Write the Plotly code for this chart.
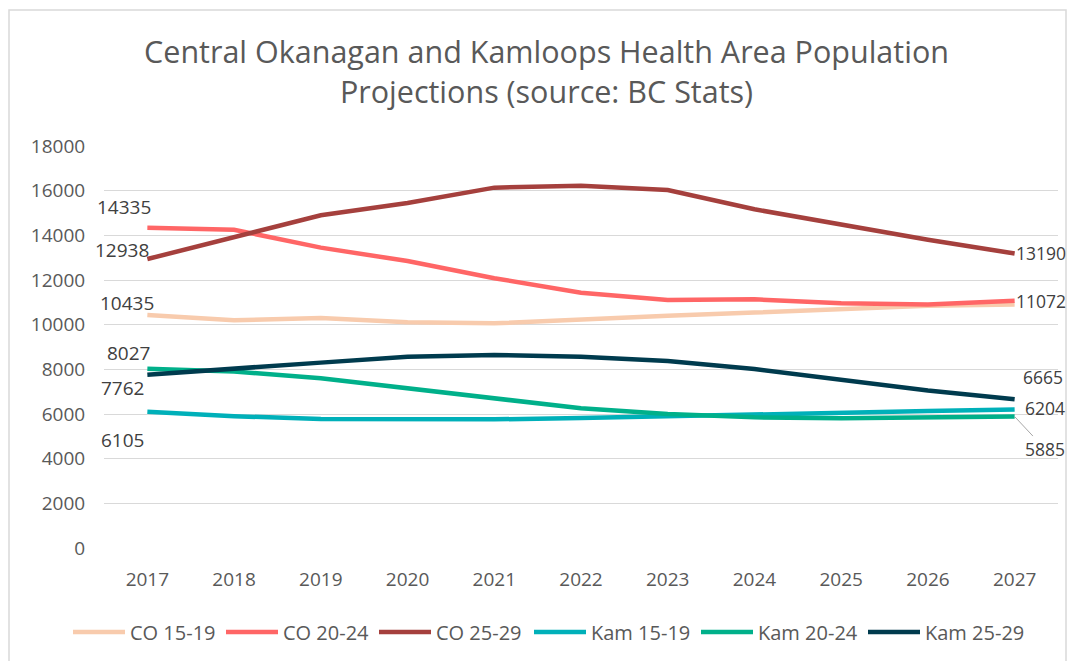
import plotly.graph_objects as go

years = ["2017", "2018", "2019", "2020", "2021", "2022", "2023", "2024", "2025", "2026", "2027"]

co_15_19 = [10435, 10200, 10300, 10110, 10060, 10240, 10400, 10540, 10700, 10850, 10900]
co_20_24 = [14335, 14250, 13450, 12850, 12080, 11430, 11105, 11135, 10955, 10900, 11072]
co_25_29 = [12938, 13900, 14900, 15450, 16135, 16225, 16030, 15165, 14465, 13800, 13190]
kam_15_19 = [6105, 5900, 5780, 5760, 5760, 5820, 5910, 6000, 6060, 6130, 6204]
kam_20_24 = [8027, 7900, 7600, 7150, 6700, 6255, 6000, 5850, 5810, 5830, 5885]
kam_25_29 = [7762, 8050, 8300, 8567, 8643, 8567, 8374, 8016, 7523, 7050, 6665]

series_names = ["CO 15-19", "CO 20-24", "CO 25-29", "Kam 15-19", "Kam 20-24", "Kam 25-29"]
series_values = [co_15_19, co_20_24, co_25_29, kam_15_19, kam_20_24, kam_25_29]

title_text = "Central Okanagan and Kamloops Health Area Population<br>Projections (source: BC Stats)"

# styling
colors = ["#F8CBAD", "#FF6666", "#A5403D", "#00B0B9", "#00B08A", "#003B4E"]
legend_groups = ["legend", "legend", "legend", "legend2", "legend2", "legend2"]
# label offsets (xshift, yshift) for first and last points
first_offsets = [(9, 12), (6, 21), (4, 9), (-1, -28), (5, 16), (-1, -13)]
last_offsets = [None, (0, 0), (0, 0), (9, 1), "leader", (7, 22)]

FONT = "Open Sans"
GREY = "#595959"
LABEL = "#404040"

# page has an 8px body margin; figure fills the rest of the window
OFF = 8
W, H = 1075 - OFF, 661 - OFF
ML = 104 - OFF
MT = 146 - OFF
MR = W - (1058 - OFF)
MB = H - (548 - OFF)


def cx(page_x):
    return (page_x - OFF) / W


def cy(page_y):
    return 1 - (page_y - OFF) / H


fig = go.Figure()
for name, vals, col, lg in zip(series_names, series_values, colors, legend_groups):
    fig.add_trace(go.Scatter(
        x=years, y=vals, name=name, mode="lines",
        line=dict(color=col, width=4.5), legend=lg,
        hoverinfo="x+y+name",
    ))

first_idx = 0
last_idx = len(years) - 1
annotations = []
for i, vals in enumerate(series_values):
    xs, ys = first_offsets[i]
    annotations.append(dict(
        x=first_idx, y=vals[first_idx], text=str(vals[first_idx]), showarrow=False,
        xanchor="right", yanchor="middle", xshift=xs, yshift=ys,
        font=dict(family=FONT, size=19, color=LABEL),
    ))
    lo = last_offsets[i]
    if lo is None:
        continue
    if lo == "leader":
        annotations.append(dict(
            x=last_idx, y=vals[last_idx], text=str(vals[last_idx]), showarrow=True,
            arrowhead=0, arrowwidth=1, arrowcolor="#A6A6A6", ax=30, ay=32,
            borderpad=0, font=dict(family=FONT, size=17.5, color=LABEL),
        ))
    else:
        annotations.append(dict(
            x=last_idx, y=vals[last_idx], text=str(vals[last_idx]), showarrow=False,
            xanchor="left", yanchor="middle", xshift=lo[0], yshift=lo[1],
            borderpad=0, font=dict(family=FONT, size=17.5, color=LABEL),
        ))

pw = W - ML - MR
ph = H - MT - MB

legend_common = dict(
    orientation="h", xref="container", yref="container",
    xanchor="left", y=cy(632), yanchor="middle",
    font=dict(family=FONT, size=20, color=GREY),
    bgcolor="rgba(0,0,0,0)", entrywidthmode="pixels", itemwidth=52,
)

fig.update_layout(
    width=W, height=H,
    paper_bgcolor="white", plot_bgcolor="white",
    margin=dict(l=ML, r=MR, t=MT, b=MB, autoexpand=False),
    title=dict(
        text=title_text, x=cx(546.5), xref="container", xanchor="center",
        y=cy(63), yref="container", yanchor="top",
        font=dict(family=FONT, size=30.5, color=GREY),
    ),
    xaxis=dict(
        type="category", range=[-0.5, 10.5], showgrid=False, zeroline=False,
        showline=False, ticks="outside", ticklen=14, tickcolor="rgba(0,0,0,0)",
        tickfont=dict(family=FONT, size=19, color=GREY), automargin=False,
    ),
    yaxis=dict(
        range=[0, 18000], dtick=2000, showgrid=True, gridcolor="#D9D9D9",
        gridwidth=1.3, zeroline=False, showline=False, ticks="outside",
        ticklen=14, tickcolor="rgba(0,0,0,0)", tickformat="d",
        tickfont=dict(family=FONT, size=19, color=GREY), automargin=False,
    ),
    legend=dict(legend_common, x=cx(68), entrywidth=86),
    legend2=dict(legend_common, x=cx(529), entrywidth=100),
    annotations=annotations,
    shapes=[dict(
        type="rect", xref="paper", yref="paper",
        x0=(9 - OFF - ML) / pw, x1=(1066 - OFF - ML) / pw,
        y0=(MB - (H - 2)) / ph, y1=(H - MB - (10 - OFF)) / ph,
        line=dict(color="#D9D9D9", width=1.5), fillcolor="rgba(0,0,0,0)", layer="below",
    )],
    showlegend=True,
)

fig.write_html("out.html")
